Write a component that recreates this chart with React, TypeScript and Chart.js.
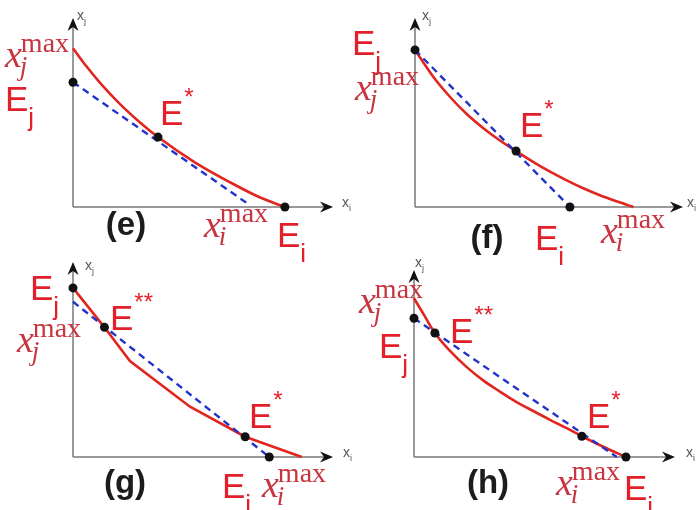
import { useEffect, useRef } from 'react';
import { Chart, registerables } from 'chart.js';

Chart.register(...registerables);

// ---- panel (e) ----
const eCurveX = [0, 0.5, 1.05, 1.8, 2.6, 3.27, 4.7, 6.05, 7.2, 8.15];
const eCurveY = [8.4, 7.47, 6.56, 5.46, 4.45, 3.7, 2.35, 1.3, 0.5, 0];
const eChordX = [0, 6.75];
const eChordY = [6.6, 0.15];
const ePointX = [0, 3.27, 8.15];
const ePointY = [6.6, 3.7, 0];

// ---- panel (f) ----
const fCurveX = [0, 0.68, 1.31, 1.93, 2.55, 3.17, 3.77, 4.42, 5.04, 5.66, 6.28, 6.9, 7.52, 8.15];
const fCurveY = [8.31, 6.89, 5.82, 4.92, 4.17, 3.52, 2.96, 2.38, 1.87, 1.41, 0.99, 0.62, 0.3, 0];
const fChordX = [0, 5.78];
const fChordY = [8.31, 0];
const fPointX = [0, 3.77, 5.78];
const fPointY = [8.31, 2.96, 0];

// ---- panel (g) ----
const gCurveX = [0, 1.21, 2.19, 4.5, 6.62, 8.8];
const gCurveY = [8.67, 6.65, 4.92, 2.58, 1.04, 0];
const gChordX = [0, 7.55];
const gChordY = [7.96, 0];
const gPointX = [0, 1.21, 6.62, 7.55];
const gPointY = [8.67, 6.65, 1.04, 0];

// ---- panel (h) ----
const hCurveX = [0, 0.36, 0.8, 1.38, 2.01, 2.65, 3.29, 3.93, 4.57, 5.21, 5.85, 6.43, 7.25, 8.12];
const hCurveY = [8.49, 7.65, 6.63, 5.67, 4.82, 4.1, 3.5, 2.94, 2.46, 1.99, 1.54, 1.11, 0.55, 0];
const hChordX = [0, 7.77];
const hChordY = [7.42, 0];
const hPointX = [0, 0.8, 6.43, 8.12];
const hPointY = [7.42, 6.63, 1.11, 0];

const W = 700;
const H = 510;

const LINE_RED = '#e1251f';
const E_RED = '#e3202a';
const MATH_RED = '#c8343f';
const DASH_BLUE = '#2233cc';
const AXIS_GREY = '#7a7a7a';
const SANS = '"Liberation Sans", Arial, Helvetica, sans-serif';
const SERIF = '"Liberation Serif", "Times New Roman", serif';

type Label =
  | { kind: 'E'; x: number; y: number; sub?: string; sup?: string }
  | { kind: 'X'; x: number; y: number; sub: string }
  | { kind: 'tag'; x: number; y: number; text: string }
  | { kind: 'axis'; x: number; y: number; sub: string };

type PanelDef = {
  area: { left: number; right: number; top: number; bottom: number };
  curveX: number[];
  curveY: number[];
  smooth: boolean;
  chordX: number[];
  chordY: number[];
  pointX: number[];
  pointY: number[];
  labels: Label[];
};

const panels: PanelDef[] = [
  {
    area: { left: 73, right: 333, top: 18, bottom: 207 },
    curveX: eCurveX, curveY: eCurveY, smooth: true,
    chordX: eChordX, chordY: eChordY, pointX: ePointX, pointY: ePointY,
    labels: [
      { kind: 'X', x: 5, y: 67, sub: 'j' },
      { kind: 'E', x: 5, y: 111, sub: 'j' },
      { kind: 'E', x: 160, y: 125, sup: '*' },
      { kind: 'tag', x: 126, y: 235, text: '(e)' },
      { kind: 'X', x: 204, y: 237, sub: 'i' },
      { kind: 'E', x: 277, y: 247, sub: 'i' },
      { kind: 'axis', x: 77, y: 20, sub: 'j' },
      { kind: 'axis', x: 342, y: 207, sub: 'i' },
    ],
  },
  {
    area: { left: 415, right: 683, top: 18, bottom: 207 },
    curveX: fCurveX, curveY: fCurveY, smooth: true,
    chordX: fChordX, chordY: fChordY, pointX: fPointX, pointY: fPointY,
    labels: [
      { kind: 'E', x: 352, y: 55, sub: 'j' },
      { kind: 'X', x: 355, y: 100, sub: 'j' },
      { kind: 'E', x: 520, y: 137, sup: '*' },
      { kind: 'tag', x: 487, y: 248, text: '(f)' },
      { kind: 'E', x: 535, y: 250, sub: 'i' },
      { kind: 'X', x: 601, y: 243, sub: 'i' },
      { kind: 'axis', x: 422, y: 20, sub: 'j' },
      { kind: 'axis', x: 687, y: 207, sub: 'i' },
    ],
  },
  {
    area: { left: 73, right: 333, top: 262, bottom: 457 },
    curveX: gCurveX, curveY: gCurveY, smooth: false,
    chordX: gChordX, chordY: gChordY, pointX: gPointX, pointY: gPointY,
    labels: [
      { kind: 'E', x: 30, y: 300, sub: 'j' },
      { kind: 'E', x: 110, y: 330, sup: '**' },
      { kind: 'X', x: 17, y: 352, sub: 'j' },
      { kind: 'E', x: 249, y: 428, sup: '*' },
      { kind: 'tag', x: 125, y: 493, text: '(g)' },
      { kind: 'E', x: 222, y: 498, sub: 'i' },
      { kind: 'X', x: 262, y: 497, sub: 'i' },
      { kind: 'axis', x: 85, y: 270, sub: 'j' },
      { kind: 'axis', x: 343, y: 457, sub: 'i' },
    ],
  },
  {
    area: { left: 414, right: 675, top: 270, bottom: 457 },
    curveX: hCurveX, curveY: hCurveY, smooth: true,
    chordX: hChordX, chordY: hChordY, pointX: hPointX, pointY: hPointY,
    labels: [
      { kind: 'X', x: 359, y: 313, sub: 'j' },
      { kind: 'E', x: 450, y: 343, sup: '**' },
      { kind: 'E', x: 379, y: 358, sub: 'j' },
      { kind: 'E', x: 587, y: 428, sup: '*' },
      { kind: 'tag', x: 488, y: 493, text: '(h)' },
      { kind: 'X', x: 556, y: 495, sub: 'i' },
      { kind: 'E', x: 624, y: 500, sub: 'i' },
      { kind: 'axis', x: 415, y: 267, sub: 'j' },
      { kind: 'axis', x: 686, y: 457, sub: 'i' },
    ],
  },
];

const toPoints = (xs: number[], ys: number[]) => xs.map((x, i) => ({ x, y: ys[i] }));

function drawArrowHead(ctx: CanvasRenderingContext2D, tx: number, ty: number, dir: 'up' | 'right') {
  const len = 13;
  const half = 5.5;
  const notch = 9;
  ctx.beginPath();
  if (dir === 'up') {
    ctx.moveTo(tx, ty);
    ctx.lineTo(tx + half, ty + len);
    ctx.lineTo(tx, ty + notch);
    ctx.lineTo(tx - half, ty + len);
  } else {
    ctx.moveTo(tx, ty);
    ctx.lineTo(tx - len, ty - half);
    ctx.lineTo(tx - notch, ty);
    ctx.lineTo(tx - len, ty + half);
  }
  ctx.closePath();
  ctx.fill();
}

function drawLabel(ctx: CanvasRenderingContext2D, l: Label) {
  ctx.textBaseline = 'alphabetic';
  ctx.textAlign = 'left';
  if (l.kind === 'E') {
    ctx.fillStyle = E_RED;
    ctx.font = `35px ${SANS}`;
    ctx.fillText('E', l.x, l.y);
    const w = ctx.measureText('E').width;
    if (l.sub) {
      ctx.font = `26px ${SANS}`;
      ctx.fillText(l.sub, l.x + w, l.y + 15);
    }
    if (l.sup) {
      ctx.font = `24px ${SANS}`;
      ctx.fillText(l.sup, l.x + w + 1, l.y - 20);
    }
  } else if (l.kind === 'X') {
    ctx.fillStyle = MATH_RED;
    ctx.font = `italic 38px ${SERIF}`;
    ctx.fillText('x', l.x, l.y);
    const w = ctx.measureText('x').width;
    ctx.font = `28px ${SERIF}`;
    ctx.fillText('max', l.x + w - 1, l.y - 15);
    ctx.font = `italic 27px ${SERIF}`;
    ctx.fillText(l.sub, l.x + w - 2, l.y + 8);
  } else if (l.kind === 'tag') {
    ctx.fillStyle = '#1c1c1c';
    ctx.font = `bold 33px ${SANS}`;
    ctx.textAlign = 'center';
    ctx.fillText(l.text, l.x, l.y);
  } else {
    ctx.fillStyle = '#555555';
    ctx.font = `14px ${SANS}`;
    ctx.fillText('x', l.x, l.y);
    const w = ctx.measureText('x').width;
    ctx.font = `9px ${SANS}`;
    ctx.fillText(l.sub, l.x + w, l.y + 4);
  }
}

function PanelChart({ def }: { def: PanelDef }) {
  const ref = useRef<HTMLCanvasElement | null>(null);

  useEffect(() => {
    const canvas = ref.current;
    if (!canvas) return;

    const axesPlugin = {
      id: 'panelAxes',
      beforeDatasetsDraw(chart: Chart) {
        const { ctx, chartArea } = chart;
        const { left, right, top, bottom } = chartArea;
        ctx.save();
        ctx.strokeStyle = AXIS_GREY;
        ctx.lineWidth = 1.5;
        ctx.beginPath();
        ctx.moveTo(left, bottom);
        ctx.lineTo(left, top + 8);
        ctx.moveTo(left, bottom);
        ctx.lineTo(right - 8, bottom);
        ctx.stroke();
        ctx.fillStyle = '#111111';
        drawArrowHead(ctx, left, top, 'up');
        drawArrowHead(ctx, right, bottom, 'right');
        ctx.restore();
      },
      afterDraw(chart: Chart) {
        const { ctx } = chart;
        ctx.save();
        def.labels.forEach((l) => drawLabel(ctx, l));
        ctx.restore();
      },
    };

    const { left, right, top, bottom } = def.area;
    const chart = new Chart(canvas, {
      type: 'line',
      data: {
        datasets: [
          {
            data: toPoints(def.pointX, def.pointY),
            showLine: false,
            pointRadius: 4.5,
            pointBackgroundColor: '#111111',
            pointBorderColor: '#111111',
            pointBorderWidth: 0,
            clip: false,
            order: 0,
          },
          {
            data: toPoints(def.chordX, def.chordY),
            borderColor: DASH_BLUE,
            borderWidth: 2.4,
            borderDash: [7, 5],
            pointRadius: 0,
            fill: false,
            clip: false,
            order: 1,
          },
          {
            data: toPoints(def.curveX, def.curveY),
            borderColor: LINE_RED,
            borderWidth: 2.6,
            pointRadius: 0,
            fill: false,
            tension: 0,
            cubicInterpolationMode: def.smooth ? 'monotone' : 'default',
            clip: false,
            order: 2,
          },
        ],
      },
      options: {
        animation: false,
        responsive: false,
        maintainAspectRatio: false,
        devicePixelRatio: 1,
        events: [],
        layout: {
          padding: { left, right: W - right, top, bottom: H - bottom },
        },
        plugins: {
          legend: { display: false },
          tooltip: { enabled: false },
          title: { display: false },
        },
        scales: {
          x: { type: 'linear', min: 0, max: 10, display: false },
          y: { type: 'linear', min: 0, max: 10, display: false },
        },
      },
      plugins: [axesPlugin],
    });

    return () => chart.destroy();
  }, [def]);

  return (
    <canvas
      ref={ref}
      width={W}
      height={H}
      style={{ position: 'absolute', left: 0, top: 0, width: W, height: H }}
    />
  );
}

export default function App() {
  return (
    <div
      style={{
        position: 'fixed',
        left: 0,
        top: 0,
        width: W,
        height: H,
        background: '#ffffff',
        overflow: 'hidden',
      }}
    >
      {panels.map((p, i) => (
        <PanelChart key={i} def={p} />
      ))}
    </div>
  );
}
